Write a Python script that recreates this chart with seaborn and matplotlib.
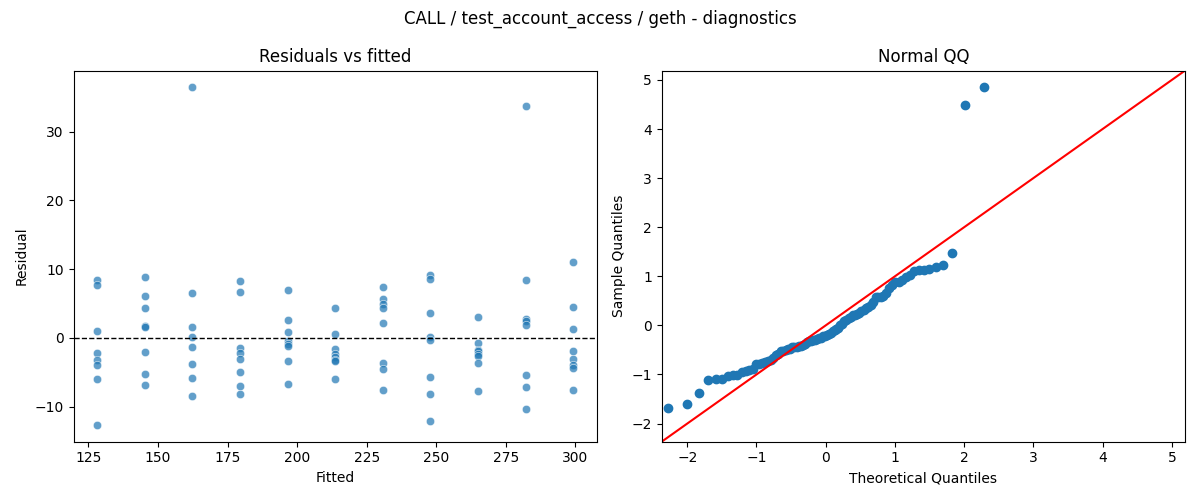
import numpy as np
import pandas as pd
import matplotlib
matplotlib.use("Agg")
import matplotlib.pyplot as plt
import seaborn as sns
from statistics import NormalDist

# Fitted levels (one per group)
fitted_levels = [128.2, 145.3, 162.4, 179.5, 196.6, 213.7, 230.8, 247.9, 265.0, 282.1, 299.2]

# Residuals read per fitted level
res_g1 = [8.47, 7.74, 1.06, -2.18, -3.14, -3.92, -5.95, -12.63]
res_g2 = [8.85, 6.10, 4.35, 1.79, 1.64, -2.03, -5.22, -6.82]
res_g3 = [36.4, 6.58, 1.60, 0.19, -1.31, -3.73, -5.81, -8.37]
res_g4 = [8.27, 6.68, -1.40, -2.18, -3.05, -4.93, -6.92, -8.13]
res_g5 = [6.97, 2.66, 0.87, -0.48, -0.87, -1.21, -3.29, -6.68]
res_g6 = [4.35, 0.63, -1.64, -2.32, -2.80, -3.25, -3.35, -5.95]
res_g7 = [7.40, 5.66, 4.93, 4.31, 2.18, -3.63, -4.50, -7.55]
res_g8 = [9.19, 8.61, 3.63, 0.10, -0.34, -5.61, -8.13, -12.05]
res_g9 = [3.05, -0.73, -1.69, -1.90, -2.40, -2.60, -3.63, -7.69]
res_g10 = [33.7, 8.42, 2.81, 2.42, 1.89, -5.37, -7.06, -10.3]
res_g11 = [11.03, 4.50, 1.31, -1.87, -3.10, -3.90, -4.30, -7.55]

groups = [res_g1, res_g2, res_g3, res_g4, res_g5, res_g6,
          res_g7, res_g8, res_g9, res_g10, res_g11]

rows = []
for f, g in zip(fitted_levels, groups):
    for r in g:
        rows.append((f, r))
df = pd.DataFrame(rows, columns=["fitted", "resid"])

# QQ data derived from residuals (standardized, population std)
resid_arr = df["resid"].to_numpy()
std_resid = np.sort(resid_arr / resid_arr.std())
n = len(std_resid)
nd = NormalDist()
theo = np.array([nd.inv_cdf(i / (n + 1)) for i in range(1, n + 1)])
qq = pd.DataFrame({"theo": theo, "sample": std_resid})

qq_lims = (-2.37, 5.19)

fig, (ax1, ax2) = plt.subplots(1, 2, figsize=(12, 5), dpi=100)

sns.scatterplot(data=df, x="fitted", y="resid", ax=ax1, alpha=0.7)
ax1.axhline(0, color="black", linestyle="--", linewidth=1)
ax1.set_title("Residuals vs fitted")
ax1.set_xlabel("Fitted")
ax1.set_ylabel("Residual")

sns.scatterplot(data=qq, x="theo", y="sample", ax=ax2, color="C0",
                edgecolor="C0", linewidth=1, s=36)
ax2.axline((0, 0), slope=1, color="red")
ax2.set_xlim(qq_lims)
ax2.set_ylim(qq_lims)
ax2.set_title("Normal QQ")
ax2.set_xlabel("Theoretical Quantiles")
ax2.set_ylabel("Sample Quantiles")

fig.suptitle("CALL / test_account_access / geth - diagnostics")
fig.tight_layout()
fig.savefig("out.png")
